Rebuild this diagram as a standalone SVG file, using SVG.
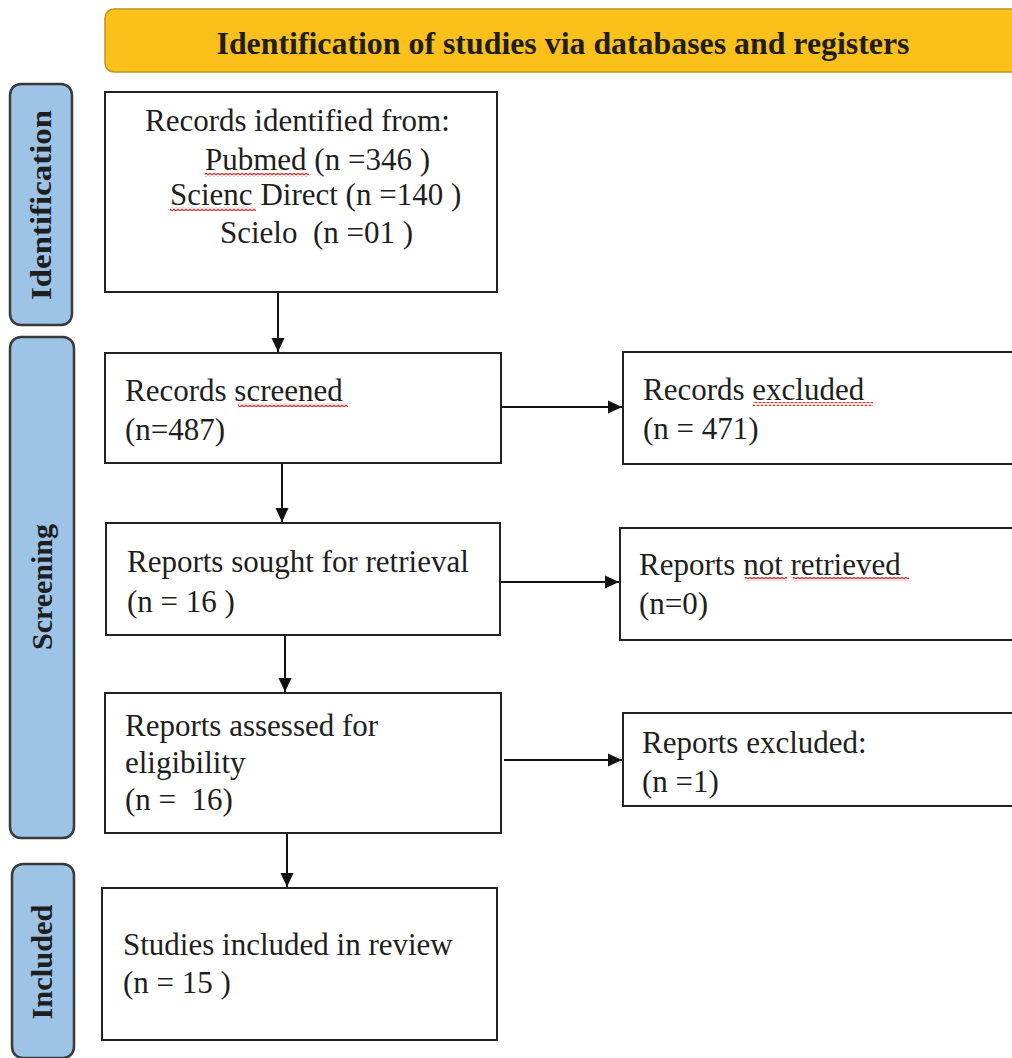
<svg xmlns="http://www.w3.org/2000/svg" width="1012" height="1058" viewBox="0 0 1012 1058">
<style>
  .box { fill: #fff; stroke: #222; stroke-width: 2; }
  .side { fill: #9dc3e6; stroke: #3a3a3a; stroke-width: 2.5; }
  .t { font-family: "Liberation Serif", "Times New Roman", serif; font-size: 31px; fill: #1e1e1e; white-space: pre; }
  .sideT { font-family: "Liberation Serif", "Times New Roman", serif; font-size: 29px; font-weight: bold; fill: #1e1e1e; }
  .head { font-family: "Liberation Serif", "Times New Roman", serif; font-size: 32px; font-weight: bold; fill: #1e1e1e; }
  .conn { stroke: #111; stroke-width: 2; fill: none; marker-end: url(#arr); }
  .sq { fill: url(#squig); }
</style>
<defs>
  <marker id="arr" markerUnits="userSpaceOnUse" markerWidth="14" markerHeight="14" refX="14" refY="7" orient="auto">
    <path d="M0,0.5 L14,7 L0,13.5 z" fill="#111"/>
  </marker>
  <pattern id="squig" patternUnits="userSpaceOnUse" width="4" height="4">
    <path d="M0,3 L2,1 L4,3" fill="none" stroke="#e02424" stroke-width="1.2"/>
  </pattern>
</defs>
<rect width="1012" height="1058" fill="#fff"/>

<g id="header">
  <rect x="105" y="9" width="930" height="63" rx="9" fill="#fcc01a" stroke="#b8961e" stroke-width="1.5"/>
  <text class="head" x="563" y="54" text-anchor="middle" textLength="693" lengthAdjust="spacingAndGlyphs">Identification of studies via databases and registers</text>
</g>

<g id="phase-identification">
  <rect class="side" x="10" y="84" width="62" height="241" rx="11"/>
  <text class="sideT" transform="translate(51,205) rotate(-90)" text-anchor="middle" textLength="190" lengthAdjust="spacingAndGlyphs">Identification</text>
</g>
<g id="phase-screening">
  <rect class="side" x="10" y="337" width="64" height="501" rx="11"/>
  <text class="sideT" transform="translate(52,587) rotate(-90)" text-anchor="middle" textLength="126" lengthAdjust="spacingAndGlyphs">Screening</text>
</g>
<g id="phase-included">
  <rect class="side" x="12" y="864" width="62" height="194" rx="11"/>
  <text class="sideT" transform="translate(52,962) rotate(-90)" text-anchor="middle" textLength="115" lengthAdjust="spacingAndGlyphs">Included</text>
</g>

<g id="records-identified">
  <rect class="box" x="105" y="92" width="392" height="200"/>
  <text class="t" x="145" y="131">Records identified from:</text>
  <text class="t" x="205" y="170">Pubmed (n =346 )</text>
  <text class="t" x="170" y="205">Scienc Direct (n =140 )</text>
  <text class="t" x="220" y="243" xml:space="preserve">Scielo  (n =01 )</text>
  <rect class="sq" x="205" y="173" width="104" height="4"/>
  <rect class="sq" x="170" y="207" width="86" height="4"/>
</g>

<g id="records-screened">
  <rect class="box" x="105" y="353" width="396" height="110"/>
  <text class="t" x="125" y="401">Records screened</text>
  <text class="t" x="125" y="440">(n=487)</text>
  <rect class="sq" x="238" y="403" width="110" height="4"/>
</g>

<g id="records-excluded">
  <rect class="box" x="623" y="352" width="400" height="112"/>
  <text class="t" x="643" y="400">Records excluded</text>
  <text class="t" x="643" y="439">(n = 471)</text>
  <rect class="sq" x="753" y="402" width="120" height="4"/>
</g>

<g id="reports-sought">
  <rect class="box" x="106" y="523" width="394" height="112"/>
  <text class="t" x="127" y="572">Reports sought for retrieval</text>
  <text class="t" x="127" y="612">(n = 16 )</text>
</g>

<g id="reports-not-retrieved">
  <rect class="box" x="620" y="528" width="400" height="112"/>
  <text class="t" x="639" y="575">Reports not retrieved</text>
  <text class="t" x="639" y="614">(n=0)</text>
  <rect class="sq" x="745" y="577" width="42" height="4"/>
  <rect class="sq" x="793" y="577" width="116" height="4"/>
</g>

<g id="reports-assessed">
  <rect class="box" x="105" y="693" width="396" height="140"/>
  <text class="t" x="125" y="736">Reports assessed for</text>
  <text class="t" x="125" y="773">eligibility</text>
  <text class="t" x="125" y="810" xml:space="preserve">(n =  16)</text>
</g>

<g id="reports-excluded">
  <rect class="box" x="623" y="713" width="400" height="93"/>
  <text class="t" x="642" y="753">Reports excluded:</text>
  <text class="t" x="642" y="792">(n =1)</text>
</g>

<g id="studies-included">
  <rect class="box" x="102" y="888" width="395" height="152"/>
  <text class="t" x="123" y="955">Studies included in review</text>
  <text class="t" x="123" y="993">(n = 15 )</text>
</g>

<g id="connectors">
  <line class="conn" x1="278" y1="293" x2="278" y2="352"/>
  <line class="conn" x1="282" y1="464" x2="282" y2="522"/>
  <line class="conn" x1="285" y1="636" x2="285" y2="692"/>
  <line class="conn" x1="287" y1="834" x2="287" y2="887"/>
  <line class="conn" x1="502" y1="407" x2="622" y2="407"/>
  <line class="conn" x1="501" y1="582" x2="619" y2="582"/>
  <line class="conn" x1="504" y1="760" x2="622" y2="760"/>
</g>
</svg>
